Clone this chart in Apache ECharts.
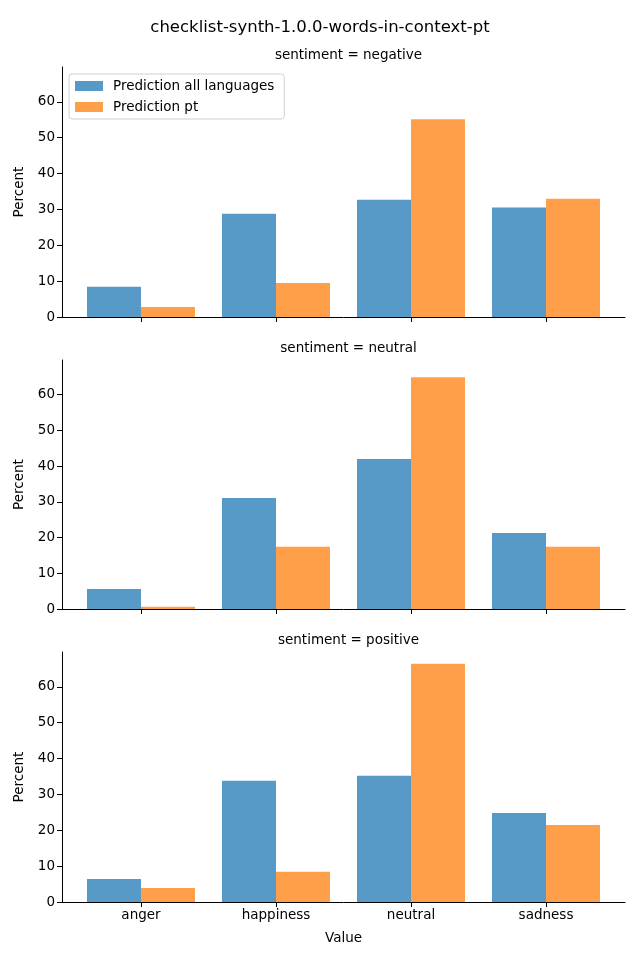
<!DOCTYPE html>
<html>
<head>
<meta charset="utf-8">
<script src="https://cdn.jsdelivr.net/npm/echarts@6/dist/echarts.min.js"></script>
<style>html,body{margin:0;padding:0;background:#fff}#c{width:640px;height:960px}</style>
</head>
<body>
<div id="c"></div>
<script>
const categories = ['anger', 'happiness', 'neutral', 'sadness'];
const panelNames = ['sentiment = negative', 'sentiment = neutral', 'sentiment = positive'];
const seriesNames = ['Prediction all languages', 'Prediction pt'];
const yTicks = [0, 10, 20, 30, 40, 50, 60];

const allNegative = [8.4, 28.8, 32.7, 30.5];
const ptNegative = [2.8, 9.5, 55.1, 33.0];
const allNeutral = [5.6, 31.1, 42.0, 21.3];
const ptNeutral = [0.6, 17.4, 64.9, 17.4];
const allPositive = [6.4, 33.8, 35.2, 24.8];
const ptPositive = [3.9, 8.4, 66.4, 21.5];

const allData = [allNegative, allNeutral, allPositive];
const ptData = [ptNegative, ptNeutral, ptPositive];
const colors = ['#5799c7', '#ff9f4a'];
const FONT = 'DejaVu Sans';

const grids = [
  {left: 62, top: 67, width: 563, height: 250},
  {left: 62, top: 360, width: 563, height: 249},
  {left: 62, top: 652, width: 563, height: 250}
];

const xAxes = [], yAxes = [], series = [], titles = [];
titles.push({text: 'checklist-synth-1.0.0-words-in-context-pt', left: 'center', top: 14,
  textStyle: {fontFamily: FONT, fontSize: 16.5, fontWeight: 'normal', color: '#000'}});
const titleTops = [43, 336, 628];
grids.forEach((g, i) => {
  titles.push({text: panelNames[i], left: 343.5, textAlign: 'center', top: titleTops[i],
    textStyle: {fontFamily: FONT, fontSize: 13.5, fontWeight: 'normal', color: '#000'}});
  xAxes.push({
    type: 'value', gridIndex: i, min: -0.585, max: 3.585,
    axisLine: {show: true, onZero: false, lineStyle: {color: '#000', width: 1}},
    axisTick: {show: true, customValues: [0, 1, 2, 3], length: 5, lineStyle: {color: '#000'}},
    axisLabel: {show: i === 2, customValues: [0, 1, 2, 3], formatter: v => categories[Math.round(v)],
      fontFamily: FONT, fontSize: 13.5, color: '#000', margin: 6},
    splitLine: {show: false},
    name: i === 2 ? 'Value' : '', nameLocation: 'middle', nameGap: 29,
    nameTextStyle: {fontFamily: FONT, fontSize: 13.5, color: '#000'}
  });
  yAxes.push({
    type: 'value', gridIndex: i, min: 0, max: 69.7,
    axisLine: {show: true, onZero: false, lineStyle: {color: '#000', width: 1}},
    axisTick: {show: true, customValues: yTicks, length: 5, lineStyle: {color: '#000'}},
    axisLabel: {customValues: yTicks, fontFamily: FONT, fontSize: 13.5, color: '#000', margin: 7},
    splitLine: {show: false},
    name: 'Percent', nameLocation: 'middle', nameGap: 34, nameRotate: 90,
    nameTextStyle: {fontFamily: FONT, fontSize: 13.5, color: '#000'}
  });
  [allData[i], ptData[i]].forEach((arr, s) => {
    series.push({
      type: 'bar', name: seriesNames[s], xAxisIndex: i, yAxisIndex: i,
      barWidth: 54, barGap: '0%',
      itemStyle: {color: colors[s]},
      data: arr.map((v, k) => [k, v]),
      silent: true, animation: false
    });
  });
});

const chart = echarts.init(document.getElementById('c'), null, {renderer: 'canvas'});
chart.setOption({
  animation: false,
  title: titles,
  grid: grids,
  xAxis: xAxes,
  yAxis: yAxes,
  legend: {
    data: seriesNames, orient: 'vertical', left: 69, top: 74,
    itemWidth: 28, itemHeight: 10, itemGap: 7,
    padding: [5, 10, 5, 6],
    borderColor: '#d0d0d0', borderWidth: 1, borderRadius: 3,
    backgroundColor: 'rgba(255,255,255,0.8)',
    icon: 'rect',
    textStyle: {fontFamily: FONT, fontSize: 13.5, color: '#000', padding: [0, 0, 0, 5]}
  },
  series: series
});
</script>
</body>
</html>
